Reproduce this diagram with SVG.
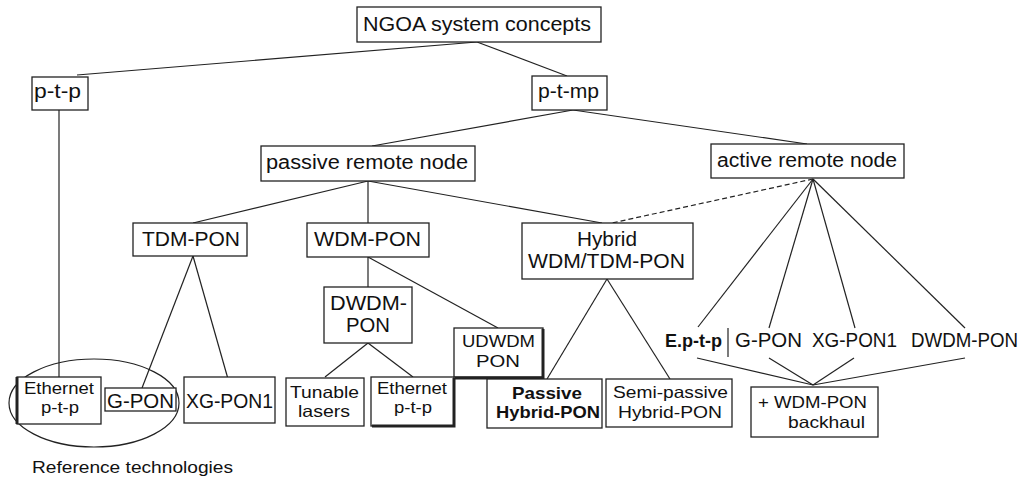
<svg xmlns="http://www.w3.org/2000/svg" width="1032" height="479" viewBox="0 0 1032 479">
<style>
.b{fill:#fff;stroke:#222;stroke-width:1.3}
.t{font-family:"Liberation Sans",Arial,sans-serif;font-size:19.5px;fill:#111}
.t2{font-family:"Liberation Sans",Arial,sans-serif;font-size:16.5px;fill:#111}
.bt{font-family:"Liberation Sans",Arial,sans-serif;font-size:18.5px;font-weight:bold;fill:#111}
.bt2{font-family:"Liberation Sans",Arial,sans-serif;font-size:16.5px;font-weight:bold;fill:#111}
.c line{stroke:#222;stroke-width:1.2}
.sh{stroke:#222;stroke-width:3;fill:none}
</style>
<rect width="1032" height="479" fill="#fff"/>
<g class="c" id="connectors">
<line x1="477" y1="42" x2="77" y2="75"/>
<line x1="477" y1="42" x2="567" y2="76"/>
<line x1="59" y1="110" x2="59" y2="377"/>
<line x1="573" y1="110" x2="372" y2="146"/>
<line x1="573" y1="110" x2="807" y2="144"/>
<line x1="368" y1="181" x2="193" y2="223"/>
<line x1="368" y1="181" x2="368" y2="223"/>
<line x1="368" y1="181" x2="602" y2="223"/>
<line x1="813" y1="179" x2="612" y2="223" stroke-dasharray="5,3"/>
<line x1="193" y1="256" x2="142" y2="388"/>
<line x1="193" y1="256" x2="230" y2="386"/>
<line x1="368" y1="257" x2="368" y2="287"/>
<line x1="368" y1="257" x2="498" y2="328"/>
<line x1="368" y1="343" x2="325" y2="377"/>
<line x1="368" y1="343" x2="413" y2="377"/>
<line x1="607" y1="279" x2="547" y2="379"/>
<line x1="607" y1="279" x2="670" y2="379"/>
<line x1="813" y1="179" x2="698" y2="327"/>
<line x1="813" y1="179" x2="769" y2="328"/>
<line x1="813" y1="179" x2="855" y2="328"/>
<line x1="813" y1="179" x2="965" y2="328"/>
<line x1="697" y1="358" x2="813" y2="385"/>
<line x1="769" y1="358" x2="813" y2="385"/>
<line x1="854" y1="358" x2="813" y2="385"/>
<line x1="965" y1="358" x2="813" y2="385"/>
<line x1="728" y1="328" x2="728" y2="357"/>
</g>
<ellipse cx="94" cy="403" rx="85" ry="44" fill="none" stroke="#222" stroke-width="1.2"/>
<g id="ngoa"><rect class="b" x="357" y="7" width="244" height="35"/><text class="t" x="363" y="31" textLength="228" lengthAdjust="spacingAndGlyphs">NGOA system concepts</text></g>
<g id="ptp"><rect class="b" x="32" y="77" width="56" height="33"/><text class="t" x="34" y="98" textLength="47" lengthAdjust="spacingAndGlyphs">p-t-p</text></g>
<g id="ptmp"><rect class="b" x="532" y="76" width="75" height="34"/><text class="t" x="538" y="98" textLength="61" lengthAdjust="spacingAndGlyphs">p-t-mp</text></g>
<g id="passive"><rect class="b" x="261" y="146" width="214" height="35"/><text class="t" x="266" y="169" textLength="202" lengthAdjust="spacingAndGlyphs">passive remote node</text></g>
<g id="active"><rect class="b" x="711" y="144" width="193" height="34"/><text class="t" x="717" y="167" textLength="180" lengthAdjust="spacingAndGlyphs">active remote node</text></g>
<g id="tdm"><rect class="b" x="133" y="223" width="114" height="33"/><text class="t" x="142" y="246" textLength="98" lengthAdjust="spacingAndGlyphs">TDM-PON</text></g>
<g id="wdm"><rect class="b" x="307" y="223" width="122" height="34"/><text class="t" x="314" y="246" textLength="107" lengthAdjust="spacingAndGlyphs">WDM-PON</text></g>
<g id="hybrid"><rect class="b" x="522" y="223" width="171" height="56"/><text class="t" x="577" y="246" textLength="60" lengthAdjust="spacingAndGlyphs">Hybrid</text><text class="t" x="528" y="268" textLength="157" lengthAdjust="spacingAndGlyphs">WDM/TDM-PON</text></g>
<g id="dwdm"><rect class="b" x="324" y="287" width="88" height="56"/><text class="t" x="330" y="310" textLength="77" lengthAdjust="spacingAndGlyphs">DWDM-</text><text class="t" x="346" y="332" textLength="44" lengthAdjust="spacingAndGlyphs">PON</text></g>
<g id="udwdm"><rect class="b" x="454" y="328" width="89" height="49"/><polyline class="sh" points="543,329 543,378 455,378"/><text class="t2" x="462" y="347" textLength="73" lengthAdjust="spacingAndGlyphs">UDWDM</text><text class="t2" x="476" y="367" textLength="44" lengthAdjust="spacingAndGlyphs">PON</text></g>
<g id="eth1"><rect class="b" x="17" y="377" width="84" height="47"/><line x1="17" y1="377" x2="17" y2="424" stroke="#222" stroke-width="3"/><text class="t2" x="24" y="394" textLength="70" lengthAdjust="spacingAndGlyphs">Ethernet</text><text class="t2" x="41" y="413" textLength="38" lengthAdjust="spacingAndGlyphs">p-t-p</text></g>
<g id="gpon1"><rect class="b" x="105" y="388" width="71" height="23"/><text class="t" x="107" y="408" textLength="67" lengthAdjust="spacingAndGlyphs">G-PON</text></g>
<g id="xgpon1"><rect class="b" x="184" y="377" width="91" height="46"/><text class="t" x="186" y="408" textLength="87" lengthAdjust="spacingAndGlyphs">XG-PON1</text></g>
<g id="tunable"><rect class="b" x="286" y="378" width="78" height="48"/><text class="t2" x="290" y="398" textLength="69" lengthAdjust="spacingAndGlyphs">Tunable</text><text class="t2" x="298" y="417" textLength="52" lengthAdjust="spacingAndGlyphs">lasers</text></g>
<g id="eth2"><rect class="b" x="371" y="377" width="83" height="49"/><polyline class="sh" points="454,378 454,426 372,426" stroke-width="2.5"/><text class="t2" x="377" y="394" textLength="70" lengthAdjust="spacingAndGlyphs">Ethernet</text><text class="t2" x="394" y="413" textLength="38" lengthAdjust="spacingAndGlyphs">p-t-p</text></g>
<g id="phybrid"><rect class="b" x="487" y="379" width="115" height="49"/><text class="bt2" x="512" y="399" textLength="70" lengthAdjust="spacingAndGlyphs">Passive</text><text class="bt2" x="496" y="418" textLength="104" lengthAdjust="spacingAndGlyphs">Hybrid-PON</text></g>
<g id="shybrid"><rect class="b" x="606" y="379" width="126" height="48"/><text class="t2" x="613" y="398" textLength="115" lengthAdjust="spacingAndGlyphs">Semi-passive</text><text class="t2" x="618" y="418" textLength="104" lengthAdjust="spacingAndGlyphs">Hybrid-PON</text></g>
<g id="eptp"><text class="bt" x="665" y="347" textLength="57" lengthAdjust="spacingAndGlyphs">E.p-t-p</text></g>
<g id="gpon2"><text class="t" x="735" y="347" textLength="67" lengthAdjust="spacingAndGlyphs">G-PON</text></g>
<g id="xgpon2"><text class="t" x="812" y="347" textLength="85" lengthAdjust="spacingAndGlyphs">XG-PON1</text></g>
<g id="dwdmpon"><text class="t" x="911" y="347" textLength="107" lengthAdjust="spacingAndGlyphs">DWDM-PON</text></g>
<g id="backhaul"><rect class="b" x="751" y="387" width="127" height="50" stroke="#444"/><text class="t2" x="758" y="408" textLength="109" lengthAdjust="spacingAndGlyphs">+ WDM-PON</text><text class="t2" x="788" y="428" textLength="77" lengthAdjust="spacingAndGlyphs">backhaul</text></g>
<text class="t" x="32" y="473" style="font-size:16px" fill="#222" textLength="201" lengthAdjust="spacingAndGlyphs">Reference technologies</text>
</svg>
